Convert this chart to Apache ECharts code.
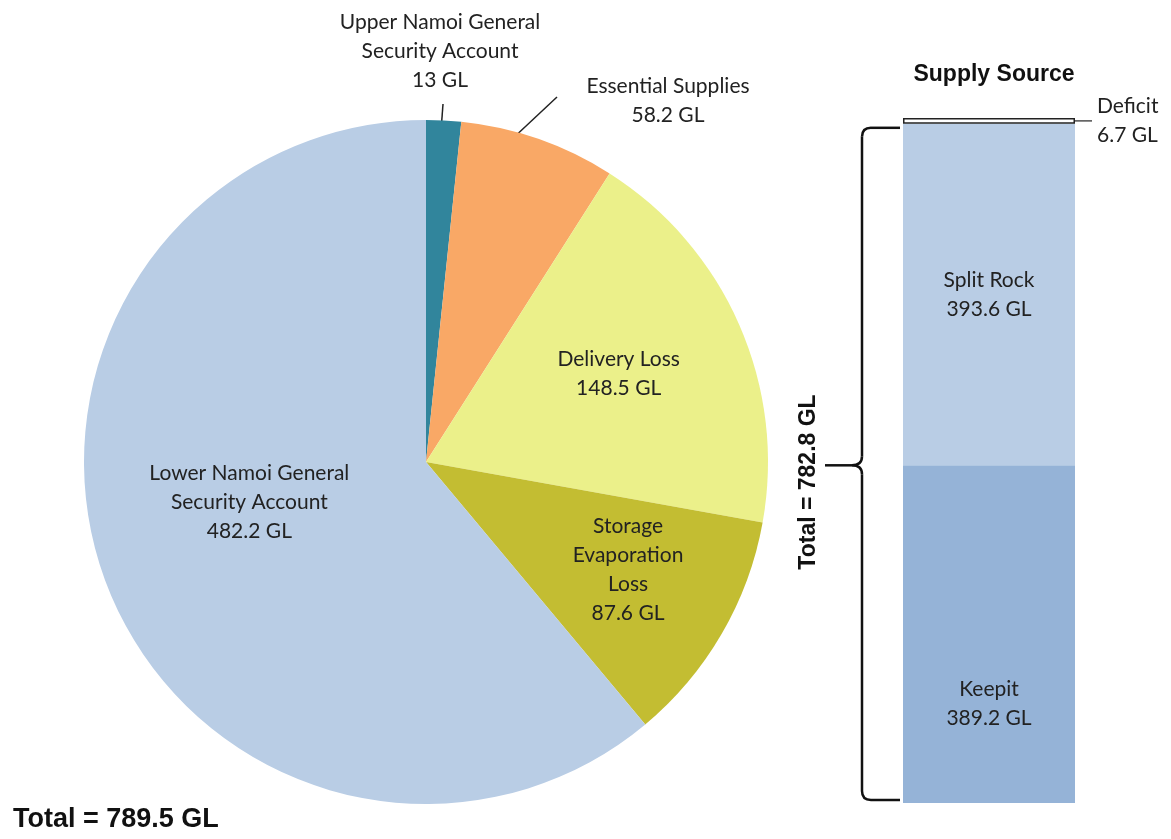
<!DOCTYPE html>
<html>
<head>
<meta charset="utf-8">
<script src="https://cdn.jsdelivr.net/npm/echarts@6/dist/echarts.min.js"></script>
<style>
html, body { margin: 0; padding: 0; background: #fff; }
#main { width: 1171px; height: 839px; }
</style>
</head>
<body>
<div id="main"></div>
<script>
// use pie - allocation of water
var useNames = ['Upper Namoi General\nSecurity Account', 'Essential Supplies', 'Delivery Loss', 'Storage\nEvaporation\nLoss', 'Lower Namoi General\nSecurity Account'];
var useValues = [13, 58.2, 148.5, 87.6, 482.2];
var useColors = ['#31859C', '#F9A866', '#EBF08A', '#C3BD32', '#B9CDE5'];

// supply bar - stacked from the bottom
var supplyNames = ['Keepit', 'Split Rock', 'Deficit'];
var supplyValues = [389.2, 393.6, 6.7];
var supplyColors = ['#95B3D7', '#B9CDE5', '#FFFFFF'];

var labelFont = 'Lato';
var boldFont = '"Liberation Sans", Arial';
var pieCenter = [426, 462];
var pieRadius = 342;

function sum(arr) {
	var s = 0;
	for (var i = 0; i < arr.length; i++) s += arr[i];
	return Math.round(s * 10) / 10;
}
var useTotal = sum(useValues);
var supplyTotal = sum(supplyValues.slice(0, 2));

// inside labels: [fraction of radius, angle tweak in degrees] from the slice middle
var pieLabelPlace = {
	2: [0.62, -1],
	3: [0.67, -2],
	4: [0.53, 7]
};
// outside labels: text spot and leader line
var pieLabelSpot = {
	0: { x: 440, y: 51, line: [[441, 131], [443, 104], [443, 104]] },
	1: { x: 668, y: 101, line: [[510, 141], [557, 97], [557, 97]] }
};

function midAngle(idx) {
	var before = 0;
	for (var k = 0; k < idx; k++) before += useValues[k];
	return (before + useValues[idx] / 2) / useTotal * 360;
}

var pieData = [];
for (var i = 0; i < useValues.length; i++) {
	var item = { name: useNames[i], value: useValues[i], itemStyle: { color: useColors[i] } };
	if (pieLabelSpot[i]) {
		item.label = { position: 'outside' };
		item.labelLine = { show: true };
	}
	pieData.push(item);
}

var barSeries = [];
for (var j = 0; j < supplyValues.length; j++) {
	var s = {
		name: supplyNames[j],
		type: 'bar',
		stack: 'supply',
		barWidth: '100%',
		data: [supplyValues[j]],
		itemStyle: { color: supplyColors[j] },
		label: {
			show: true,
			position: 'inside',
			formatter: '{a}\n{c} GL',
			fontFamily: labelFont,
			fontSize: 21,
			lineHeight: 29,
			color: '#222'
		}
	};
	if (j == 0) s.label.offset = [0, 70];
	if (j == 2) {
		s.itemStyle = { color: '#fff', borderColor: '#222', borderWidth: 1.5 };
		s.label.position = 'right';
		s.label.distance = 22;
		s.label.align = 'left';
	}
	barSeries.push(s);
}

var option = {
	animation: false,
	title: [{
		text: 'Supply Source',
		left: 989,
		textAlign: 'center',
		top: 58,
		textStyle: { fontFamily: boldFont, fontWeight: 'bold', fontSize: 23, color: '#111' }
	}, {
		text: 'Total = ' + useTotal + ' GL',
		left: 8,
		bottom: 1,
		textStyle: { fontFamily: boldFont, fontWeight: 'bold', fontSize: 27, color: '#111' }
	}],
	grid: { left: 903, top: 118, width: 172, bottom: 36 },
	xAxis: { type: 'category', data: ['Supply'], show: false },
	yAxis: { type: 'value', min: 0, max: sum(supplyValues), show: false },
	series: [{
		type: 'pie',
		center: pieCenter,
		radius: pieRadius,
		startAngle: 90,
		clockwise: true,
		avoidLabelOverlap: false,
		silent: true,
		data: pieData,
		label: {
			show: true,
			position: 'inside',
			formatter: function (p) { return p.name + '\n' + p.value + ' GL'; },
			fontFamily: labelFont,
			fontSize: 21,
			lineHeight: 29,
			color: '#222',
			align: 'center'
		},
		labelLine: { show: false, lineStyle: { color: '#222', width: 1.5 } },
		labelLayout: function (p) {
			var spot = pieLabelSpot[p.dataIndex];
			if (spot) {
				return { x: spot.x, y: spot.y, align: 'center', verticalAlign: 'middle', labelLinePoints: spot.line };
			}
			var pl = pieLabelPlace[p.dataIndex];
			if (!pl) return {};
			var a = (midAngle(p.dataIndex) + pl[1]) * Math.PI / 180;
			var rr = pl[0] * pieRadius;
			return {
				x: pieCenter[0] + rr * Math.sin(a),
				y: pieCenter[1] - rr * Math.cos(a),
				align: 'center',
				verticalAlign: 'middle'
			};
		}
	}].concat(barSeries)
};

var myChart = echarts.init(document.getElementById('main'));
myChart.setOption(option);

// brace + deficit leader line, placed from the bar's scale
var yMid = myChart.convertToPixel({ gridIndex: 0 }, [0, supplyValues[0]])[1];
var yTop = myChart.convertToPixel({ gridIndex: 0 }, [0, supplyTotal])[1] + 4;
var yBot = myChart.convertToPixel({ gridIndex: 0 }, [0, 0])[1] - 3;
var yDef = myChart.convertToPixel({ gridIndex: 0 }, [0, supplyTotal + supplyValues[2] / 2])[1];
var barL = 903, barR = 1075;
var xv = barL - 41, x2 = barL - 3, xTip = barL - 78;
var braceStyle = { stroke: '#111', lineWidth: 2.5, fill: null };

function ln(a, b, c, d) {
	return { type: 'line', shape: { x1: a, y1: b, x2: c, y2: d }, style: braceStyle };
}
function crv(a, b, cx, cy, c, d) {
	return { type: 'bezierCurve', shape: { x1: a, y1: b, cpx1: cx, cpy1: cy, x2: c, y2: d }, style: braceStyle };
}

var brace = [
	ln(x2, yTop, xv + 9, yTop),
	crv(xv + 9, yTop, xv, yTop, xv, yTop + 9),
	ln(xv, yTop + 9, xv, yMid - 9),
	crv(xv, yMid - 9, xv, yMid, xv - 10, yMid),
	ln(xv - 10, yMid, xTip, yMid),
	crv(xv - 10, yMid, xv, yMid, xv, yMid + 9),
	ln(xv, yMid + 9, xv, yBot - 9),
	crv(xv, yBot - 9, xv, yBot, xv + 9, yBot),
	ln(xv + 9, yBot, x2, yBot)
];

myChart.setOption({
	graphic: brace.concat([{
		type: 'line',
		shape: { x1: barR, y1: yDef, x2: barR + 17, y2: yDef },
		style: { stroke: '#222', lineWidth: 1.2 }
	}, {
		type: 'text',
		x: 809,
		y: 482,
		rotation: Math.PI / 2,
		style: {
			text: 'Total = ' + supplyTotal + ' GL',
			font: 'bold 23px "Liberation Sans", Arial',
			fill: '#111',
			align: 'center',
			verticalAlign: 'middle'
		}
	}])
});
</script>
</body>
</html>
